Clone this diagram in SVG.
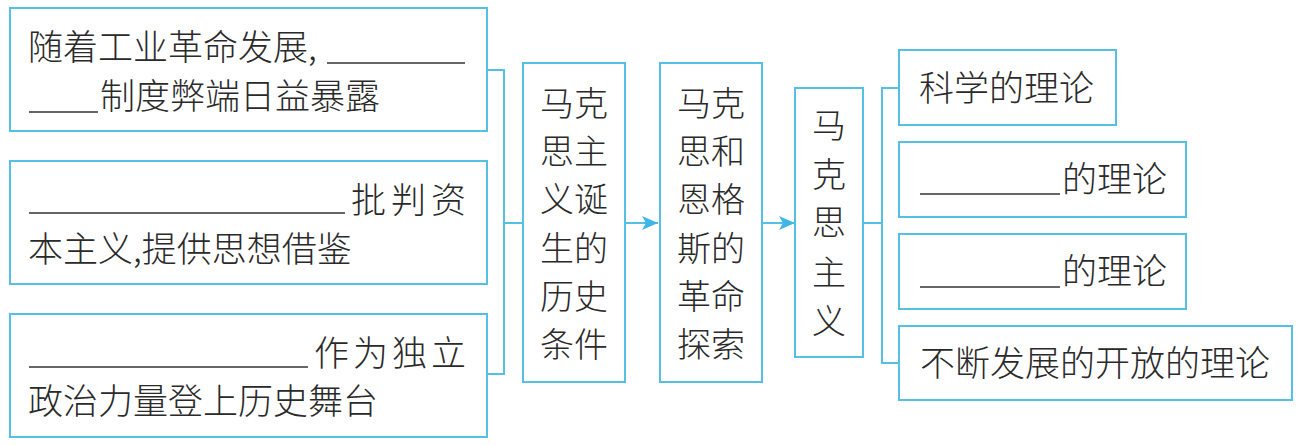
<svg xmlns="http://www.w3.org/2000/svg" width="1306" height="445" viewBox="0 0 1306 445">
<style>
.box{fill:#ffffff;stroke:#55bfe4;stroke-width:2}
.con{fill:none;stroke:#55bfe4;stroke-width:2}
.t{font-family:"Noto Sans CJK SC","Noto Sans",sans-serif;font-size:35px;font-weight:300;fill:#2a2a2a}
.v{font-family:"Noto Sans CJK SC","Noto Sans",sans-serif;font-size:34px;font-weight:300;fill:#2a2a2a;text-anchor:middle}
.blank{stroke:#333333;stroke-width:1.5}
</style>
<defs>
<marker id="arr" markerUnits="userSpaceOnUse" markerWidth="18" markerHeight="16" refX="17" refY="8" orient="auto">
<path d="M1,1 L17,8 L1,15 L5,8 Z" fill="#3fb6e8"/>
</marker>
</defs>
<rect width="1306" height="445" fill="#ffffff"/>
<g id="connectors">
<path class="con" d="M487,70 H504 V374 H487"/>
<path class="con" d="M504,223 H523"/>
<path class="con" d="M625,223 H658" marker-end="url(#arr)"/>
<path class="con" d="M762,223 H795" marker-end="url(#arr)"/>
<path class="con" d="M863,223 H882"/>
<path class="con" d="M899,88 H882 V363 H899"/>
</g>
<g id="cond1">
<rect class="box" x="10" y="8" width="477" height="123"/>
<text class="t" x="28" y="60">随着工业革命发展,</text>
<line class="blank" x1="327" y1="63" x2="465" y2="63"/>
<line class="blank" x1="29" y1="112" x2="98" y2="112"/>
<text class="t" x="100" y="109">制度弊端日益暴露</text>
</g>
<g id="cond2">
<rect class="box" x="10" y="161" width="477" height="123"/>
<line class="blank" x1="29" y1="213" x2="345" y2="213"/>
<text class="t" x="351" y="213" letter-spacing="5">批判资</text>
<text class="t" x="28" y="262">本主义,提供思想借鉴</text>
</g>
<g id="cond3">
<rect class="box" x="10" y="314" width="477" height="123"/>
<line class="blank" x1="29" y1="367" x2="308" y2="367"/>
<text class="t" x="314" y="366" letter-spacing="4">作为独立</text>
<text class="t" x="28" y="414">政治力量登上历史舞台</text>
</g>
<g id="history">
<rect class="box" x="523" y="63" width="102" height="319"/>
<text class="v" x="574" y="116">马克</text>
<text class="v" x="574" y="164">思主</text>
<text class="v" x="574" y="212">义诞</text>
<text class="v" x="574" y="261">生的</text>
<text class="v" x="574" y="309">历史</text>
<text class="v" x="574" y="357">条件</text>
</g>
<g id="explore">
<rect class="box" x="660" y="63" width="102" height="319"/>
<text class="v" x="711" y="116">马克</text>
<text class="v" x="711" y="164">思和</text>
<text class="v" x="711" y="212">恩格</text>
<text class="v" x="711" y="261">斯的</text>
<text class="v" x="711" y="309">革命</text>
<text class="v" x="711" y="357">探索</text>
</g>
<g id="marxism">
<rect class="box" x="795" y="88" width="68" height="269"/>
<text class="v" x="829" y="138">马</text>
<text class="v" x="829" y="187">克</text>
<text class="v" x="829" y="235">思</text>
<text class="v" x="829" y="285">主</text>
<text class="v" x="829" y="334">义</text>
</g>
<g id="r1">
<rect class="box" x="899" y="50" width="217" height="75"/>
<text class="t" x="919" y="101">科学的理论</text>
</g>
<g id="r2">
<rect class="box" x="899" y="142" width="287" height="75"/>
<line class="blank" x1="920" y1="194" x2="1060" y2="194"/>
<text class="t" x="1062" y="192">的理论</text>
</g>
<g id="r3">
<rect class="box" x="899" y="234" width="287" height="75"/>
<line class="blank" x1="920" y1="287" x2="1060" y2="287"/>
<text class="t" x="1062" y="284">的理论</text>
</g>
<g id="r4">
<rect class="box" x="899" y="326" width="393" height="74"/>
<text class="t" x="920" y="376">不断发展的开放的理论</text>
</g>
</svg>
